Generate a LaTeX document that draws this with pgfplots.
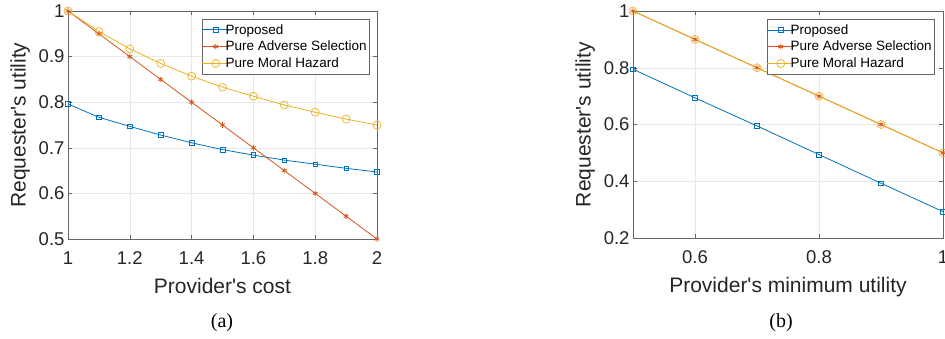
\documentclass[border=0pt]{standalone}
\usepackage{pgfplots}
\pgfplotsset{compat=1.18}
\usepackage{fontspec}
\setmainfont{Liberation Sans}
\newfontfamily\timesfont{Liberation Serif}
\definecolor{mblue}{rgb}{0,0.447,0.741}
\definecolor{morange}{rgb}{0.85,0.325,0.098}
\definecolor{myellow}{rgb}{0.929,0.694,0.125}
\definecolor{axgray}{rgb}{0.4,0.4,0.4}
\pgfplotsset{
  mstyle/.style={
    scale only axis,
    /pgf/number format/assume math mode=true,
    tick pos=both, tick align=inside,
    major tick length=4pt,
    axis line style={axgray},
    every tick/.style={axgray},
    grid=major,
    major grid style={gray!18, line width=0.5pt},
    tick label style={font=\fontsize{18.5}{20}\selectfont, text=black!85},
    xticklabel style={yshift=-9pt},
    label style={font=\fontsize{21}{23}\selectfont, text=black!85},
    legend style={font=\fontsize{13.5}{14}\selectfont, draw=axgray, line width=0.5pt, row sep=1.5pt, inner xsep=0pt, inner ysep=3pt, cells={anchor=west}},
    legend cell align=left,
    legend image code/.code={%
      \draw[overlay,mark repeat=2,mark phase=2] plot coordinates {(0pt,0pt) (13.5pt,0pt) (27pt,0pt)};
      \path (0pt,0pt) rectangle (21pt,0pt);},
    every axis plot/.append style={line width=0.8pt},
  },
  sblue/.style={color=mblue, mark=square, mark size=2.3pt, mark options={line width=0.6pt}},
  sorange/.style={color=morange, mark=asterisk, mark size=2.8pt, mark options={line width=0.8pt}},
  syellow/.style={color=myellow, mark=o, mark size=4pt, mark options={line width=0.7pt}},
}
\begin{document}
\begin{tikzpicture}
\useasboundingbox (0pt,0pt) rectangle (945pt,338pt);
\begin{axis}[mstyle,
  at={(68pt,99pt)}, anchor=south west,
  width=309pt, height=228pt,
  xmin=1, xmax=2, ymin=0.5, ymax=1,
  xtick={1,1.2,1.4,1.6,1.8,2},
  ytick={0.5,0.6,0.7,0.8,0.9,1},
  xticklabels={1,1.2,1.4,1.6,1.8,2},
  yticklabels={0.5,0.6,0.7,0.8,0.9,1},
  xlabel={Provider\textquotesingle s cost},
  ylabel={Requester\textquotesingle s utility},
  xlabel style={yshift=-7pt},
  ylabel style={yshift=2pt},
  legend style={at={(1,1)}, xshift=-8pt, yshift=-8pt, anchor=north east},
  clip=false,
]
\addplot[sblue] coordinates {(1,0.796) (1.1,0.767) (1.2,0.747) (1.3,0.728) (1.4,0.711) (1.5,0.696) (1.6,0.684) (1.7,0.673) (1.8,0.664) (1.9,0.655) (2,0.647)};
\addlegendentry{Proposed}
\addplot[sorange] coordinates {(1,1) (1.1,0.95) (1.2,0.9) (1.3,0.85) (1.4,0.8) (1.5,0.75) (1.6,0.7) (1.7,0.65) (1.8,0.6) (1.9,0.55) (2,0.5)};
\addlegendentry{Pure Adverse Selection}
\addplot[syellow] coordinates {(1,1) (1.1,0.955) (1.2,0.917) (1.3,0.885) (1.4,0.857) (1.5,0.833) (1.6,0.813) (1.7,0.794) (1.8,0.778) (1.9,0.763) (2,0.75)};
\addlegendentry{Pure Moral Hazard}
\end{axis}
\begin{axis}[mstyle,
  at={(633pt,100pt)}, anchor=south west,
  width=310pt, height=227pt,
  xmin=0.5, xmax=1, ymin=0.2, ymax=1,
  xtick={0.6,0.8,1},
  ytick={0.2,0.4,0.6,0.8,1},
  xticklabels={0.6,0.8,1},
  yticklabels={0.2,0.4,0.6,0.8,1},
  xlabel={Provider\textquotesingle s minimum utility},
  ylabel={Requester\textquotesingle s utility},
  xlabel style={yshift=-7pt},
  ylabel style={yshift=2pt},
  legend style={at={(1,1)}, xshift=-9pt, yshift=-8pt, anchor=north east},
  clip=false,
]
\addplot[sblue] coordinates {(0.5,0.795) (0.6,0.694) (0.7,0.595) (0.8,0.494) (0.9,0.393) (1,0.293)};
\addlegendentry{Proposed}
\addplot[sorange] coordinates {(0.5,1) (0.6,0.9) (0.7,0.8) (0.8,0.7) (0.9,0.6) (1,0.5)};
\addlegendentry{Pure Adverse Selection}
\addplot[syellow] coordinates {(0.5,1) (0.6,0.9) (0.7,0.8) (0.8,0.7) (0.9,0.6) (1,0.5)};
\addlegendentry{Pure Moral Hazard}
\end{axis}
\node[font=\timesfont\fontsize{20}{22}\selectfont] at (222pt,15pt) {(a)};
\node[font=\timesfont\fontsize{20}{22}\selectfont] at (781pt,15pt) {(b)};
\end{tikzpicture}
\end{document}
